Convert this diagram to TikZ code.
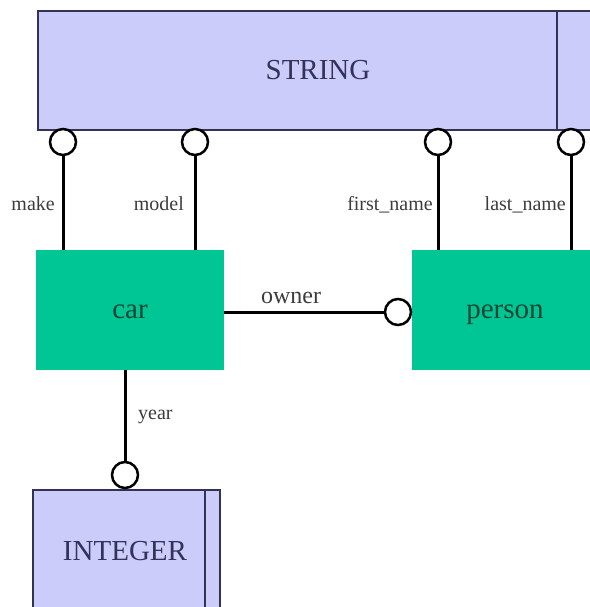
\documentclass[tikz,border=0pt]{standalone}
\usepackage{fontspec}
\setmainfont{Liberation Serif}
\definecolor{typefill}{RGB}{204,204,250}
\definecolor{typeline}{RGB}{50,50,85}
\definecolor{typetext}{RGB}{50,50,90}
\definecolor{entfill}{RGB}{0,198,150}
\definecolor{enttext}{RGB}{20,70,50}
\definecolor{labtext}{RGB}{60,60,60}
\tikzset{
  typebox/.style={draw=typeline, line width=2pt, fill=typefill,
    inner sep=0pt, anchor=north west},
  typetxt/.style={text=typetext, font=\fontsize{29}{32}\selectfont, inner sep=0pt, anchor=base},
  entbox/.style={fill=entfill, inner sep=0pt, anchor=north west},
  enttxt/.style={text=enttext, font=\fontsize{29}{32}\selectfont, inner sep=0pt, anchor=base},
  opt/.style={circle, draw=black, fill=white, line width=2.5pt, minimum size=26pt, inner sep=0pt},
  conn/.style={line width=3pt, draw=black},
  lab/.style={text=labtext, font=\fontsize{20}{22}\selectfont, inner sep=0pt},
}
\begin{document}
\begin{tikzpicture}[x=1pt,y=-1pt]
\useasboundingbox (0,0) rectangle (589,607);
% type boxes
\node[typebox, minimum width=563pt, minimum height=119pt] (string) at (37,10) {};
\node[typetxt] (stringtext) at (318,80) {STRING};
\draw[typeline, line width=2pt] (557,10) -- (557,129);
\node[typebox, minimum width=187pt, minimum height=130pt] (integer) at (32,489) {};
\node[typetxt] (integertext) at (125,560) {INTEGER};
\draw[typeline, line width=2pt] (205,489) -- (205,619);
% entity boxes
\node[entbox, minimum width=188pt, minimum height=120pt] (car) at (36,250) {};
\node[enttxt] (cartext) at (130,318) {car};
\node[entbox, minimum width=188pt, minimum height=120pt] (person) at (412,250) {};
\node[enttxt] (persontext) at (505,318) {person};
% optional circles
\node[opt] (omake) at (63,142) {};
\node[opt] (omodel) at (195,142) {};
\node[opt] (ofirst) at (438,142) {};
\node[opt] (olast) at (571,142) {};
\node[opt] (oowner) at (398,312) {};
\node[opt] (oyear) at (125,475) {};
% connectors
\draw[conn] (omake.south) -- (omake.south |- car.north);
\draw[conn] (omodel.south) -- (omodel.south |- car.north);
\draw[conn] (ofirst.south) -- (ofirst.south |- person.north);
\draw[conn] (olast.south) -- (olast.south |- person.north);
\draw[conn] (car.east |- oowner.west) -- (oowner.west);
\draw[conn] (oyear.north |- car.south) -- (oyear.north);
% labels
\node[lab, anchor=base east] (lmake) at (55,210) {make};
\node[lab, anchor=base east] (lmodel) at (184,210) {model};
\node[lab, anchor=base east] (lfirst) at (433,210) {first\_name};
\node[lab, anchor=base east] (llast) at (566,210) {last\_name};
\node[lab, anchor=base, font=\fontsize{24}{26}\selectfont] (lowner) at (291,303) {owner};
\node[lab, anchor=base west] (lyear) at (138,419) {year};
\end{tikzpicture}
\end{document}
